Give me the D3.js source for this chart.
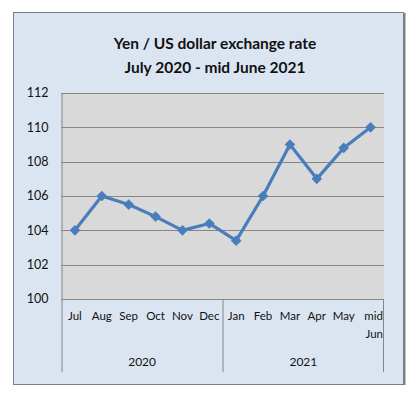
<!DOCTYPE html>
<html>
<head>
<meta charset="utf-8">
<script src="https://cdn.jsdelivr.net/npm/d3@7"></script>
<style>
  body { margin: 0; background: #fff; }
  text { font-family: Lato, "Open Sans", sans-serif; fill: #111; }
</style>
</head>
<body>
<svg id="chart" width="417" height="395"></svg>
<script>
// chart data
const months = ['Jul', 'Aug', 'Sep', 'Oct', 'Nov', 'Dec', 'Jan', 'Feb', 'Mar', 'Apr', 'May', 'mid Jun'];
const years = ['2020', '2021'];
const yearSpans = [6, 6];
const rates = [104, 106, 105.5, 104.8, 104, 104.4, 103.4, 106, 109, 107, 108.8, 110];
const yTicks = [100, 102, 104, 106, 108, 110, 112];
const titleLines = ['Yen / US dollar exchange rate', 'July 2020 - mid June 2021'];

const svg = d3.select('svg#chart');

// outer chart box
svg.append('rect')
    .attr('x', 13.5).attr('y', 12.5)
    .attr('width', 390).attr('height', 372)
    .attr('fill', '#dbe5f1')
    .attr('stroke', '#7f7f7f')
    .attr('stroke-width', 1);
svg.append('line')
    .attr('x1', 404.5).attr('x2', 404.5)
    .attr('y1', 13).attr('y2', 385)
    .attr('stroke', '#7f7f7f').attr('stroke-width', 2);

// title
svg.append('text')
    .attr('x', 215).attr('y', 0)
    .attr('text-anchor', 'middle')
    .style('font-weight', 'bold')
    .style('font-size', '15.5px')
    .selectAll('tspan')
    .data(titleLines)
    .enter().append('tspan')
        .attr('x', 215)
        .attr('y', (d, i) => 49 + i * 24)
        .text(d => d);

const margin = {top: 93, left: 61.5, right: 33, bottom: 96};
const width = 417 - margin.left - margin.right,
      height = 395 - margin.top - margin.bottom;

const g = svg.append('g').attr('transform', 'translate(' + margin.left + ',' + margin.top + ')');

const x = d3.scaleBand()
    .domain(months)
    .range([0, width]);

const y = d3.scaleLinear()
    .domain([100, 112])
    .range([height, 0]);

g.append('rect')
    .attr('width', width).attr('height', height)
    .attr('fill', '#d9d9d9');

// gridlines
g.selectAll('.grid')
    .data(yTicks)
    .enter().append('line')
        .attr('class', 'grid')
        .attr('x1', 0).attr('x2', width)
        .attr('y1', d => Math.round(y(d)) + 0.5)
        .attr('y2', d => Math.round(y(d)) + 0.5)
        .attr('stroke', '#868686');

// y axis
g.append('line')
    .attr('x1', 0.5).attr('x2', 0.5)
    .attr('y1', 0).attr('y2', height)
    .attr('stroke', '#868686');

g.selectAll('.ylab')
    .data(yTicks)
    .enter().append('text')
        .attr('class', 'ylab')
        .attr('x', -13)
        .attr('y', d => y(d))
        .attr('dy', '0.35em')
        .attr('text-anchor', 'end')
        .style('font-size', '12.5px')
        .text(d => d);

// x axis: month labels
g.selectAll('.xlab')
    .data(months)
    .enter().append('text')
        .attr('class', 'xlab')
        .attr('text-anchor', d => d.indexOf(' ') > 0 ? 'end' : 'middle')
        .style('font-size', '11.5px')
        .each(function(d) {
            const parts = d.split(' ');
            const t = d3.select(this);
            const cx = x(d) + x.bandwidth() / 2;
            parts.forEach(function(p, i) {
                t.append('tspan')
                    .attr('x', parts.length > 1 ? x(d) + x.bandwidth() - 1 : cx)
                    .attr('y', height + 21 + i * 18)
                    .text(p);
            });
        });

// year groups
let start = 0;
const bounds = [0];
yearSpans.forEach(function(n) { start += n; bounds.push(start); });

g.selectAll('.ysep')
    .data(bounds)
    .enter().append('line')
        .attr('class', 'ysep')
        .attr('x1', d => d === months.length ? width - 0.5 : Math.round(d === 0 ? 0 : x(months[d])) + 0.5)
        .attr('x2', d => d === months.length ? width - 0.5 : Math.round(d === 0 ? 0 : x(months[d])) + 0.5)
        .attr('y1', height)
        .attr('y2', height + 73)
        .attr('stroke', '#868686');

g.selectAll('.yearlab')
    .data(years)
    .enter().append('text')
        .attr('class', 'yearlab')
        .attr('x', (d, i) => (x(months[bounds[i]]) + (bounds[i + 1] === months.length ? width : x(months[bounds[i + 1]]))) / 2)
        .attr('y', height + 67)
        .attr('text-anchor', 'middle')
        .style('font-size', '12px')
        .text(d => d);

// series
const line = d3.line()
    .x((d, i) => x(months[i]) + x.bandwidth() / 2)
    .y(d => y(d));

g.append('path')
    .datum(rates)
    .attr('d', line)
    .attr('fill', 'none')
    .attr('stroke', '#4a7ebb')
    .attr('stroke-width', 3.2)
    .attr('stroke-linejoin', 'round');

g.selectAll('.pt')
    .data(rates)
    .enter().append('path')
        .attr('class', 'pt')
        .attr('d', d3.symbol().type(d3.symbolDiamond2).size(72))
        .attr('transform', (d, i) => 'translate(' + (x(months[i]) + x.bandwidth() / 2) + ',' + y(d) + ')')
        .attr('fill', '#4a7ebb');
</script>
</body>
</html>
